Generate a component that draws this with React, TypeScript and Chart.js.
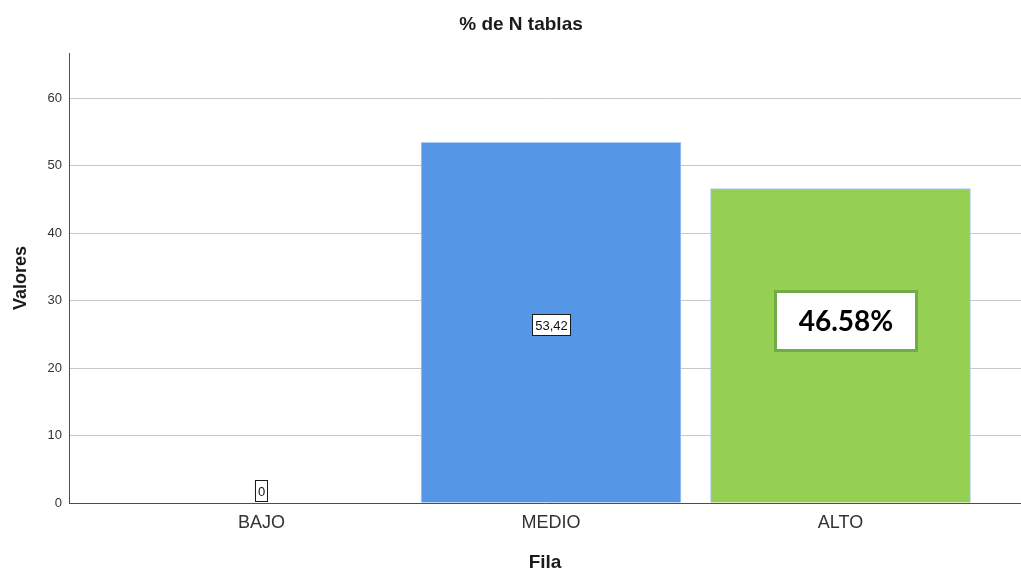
import { useEffect, useRef } from 'react';
import { Chart, registerables } from 'chart.js';

Chart.register(...registerables);

const CATEGORIES = ['BAJO', 'MEDIO', 'ALTO'];
const PERCENT_VALUES = [0, 53.42, 46.58];
const BAR_COLORS = ['#5596E6', '#5596E6', '#95D052'];
const Y_TICKS = [0, 10, 20, 30, 40, 50, 60];
const Y_MAX = 66.67;
const CALLOUT_INDEX = 2; // bar whose share is shown as a large percentage callout

const SANS = '"Liberation Sans", Arial, Helvetica, sans-serif';

function formatComma(v: number): string {
  return v === 0 ? '0' : v.toFixed(2).replace('.', ',');
}

const headingPlugin = {
  id: 'heading',
  afterDraw(chart: any) {
    const ctx = chart.ctx;
    ctx.save();
    ctx.font = `bold 19px ${SANS}`;
    ctx.fillStyle = '#1a1a1a';
    ctx.textAlign = 'center';
    ctx.textBaseline = 'alphabetic';
    ctx.fillText('% de N tablas', 521, 30);
    ctx.restore();
  },
};

const valueBoxPlugin = {
  id: 'valueBoxes',
  afterDatasetsDraw(chart: any) {
    const ctx = chart.ctx;
    const meta = chart.getDatasetMeta(0);
    const yScale = chart.scales.y;
    const base = yScale.getPixelForValue(0);
    ctx.save();
    meta.data.forEach((bar: any, i: number) => {
      const v = PERCENT_VALUES[i];

      if (i === CALLOUT_INDEX) {
        // large percentage callout in place of the small label
        const bw = 144;
        const bh = 62;
        const cx = bar.x + 5;
        const ccy = yScale.getPixelForValue(v / 2) - 25;
        const bl = Math.round(cx - bw / 2);
        const bt = Math.round(ccy - bh / 2);
        ctx.fillStyle = '#ffffff';
        ctx.fillRect(bl, bt, bw, bh);
        ctx.strokeStyle = '#70AD47';
        ctx.lineWidth = 3;
        ctx.strokeRect(bl + 1.5, bt + 1.5, bw - 3, bh - 3);
        ctx.fillStyle = '#000000';
        ctx.font = `bold 28px Lato, "Open Sans", sans-serif`;
        ctx.textAlign = 'center';
        ctx.textBaseline = 'middle';
        ctx.fillText(`${v.toFixed(2)}%`, bl + bw / 2, bt + bh / 2 + 1);
        return;
      }

      // small boxed value label in the middle of the bar
      const txt = formatComma(v);
      ctx.font = `13px ${SANS}`;
      const w = Math.round(ctx.measureText(txt).width) + 6;
      const h = 22;
      let cy = yScale.getPixelForValue(v / 2) + 2;
      cy = Math.min(cy, base - 1 - h / 2);
      const left = Math.round(bar.x - w / 2);
      const top = Math.round(cy - h / 2);
      ctx.fillStyle = '#ffffff';
      ctx.fillRect(left, top, w, h);
      ctx.strokeStyle = '#1a1a1a';
      ctx.lineWidth = 1;
      ctx.strokeRect(left + 0.5, top + 0.5, w - 1, h - 1);
      ctx.fillStyle = '#111111';
      ctx.textAlign = 'center';
      ctx.textBaseline = 'middle';
      ctx.fillText(txt, left + w / 2, top + h / 2 + 1);
    });
    ctx.restore();
  },
};

export default function App() {
  const canvasRef = useRef<HTMLCanvasElement>(null);

  useEffect(() => {
    const canvas = canvasRef.current;
    if (!canvas) return;
    Chart.defaults.font.family = SANS;

    const chart = new Chart(canvas, {
      type: 'bar',
      data: {
        datasets: [
          {
            data: PERCENT_VALUES.map((v, i) => ({ x: i, y: v })),
            backgroundColor: BAR_COLORS,
            borderColor: '#AFCDF2',
            borderWidth: 1,
            barThickness: 260,
          },
        ],
      },
      options: {
        responsive: false,
        animation: false,
        devicePixelRatio: 1,
        layout: { padding: { top: 53, left: 0, right: 0, bottom: 0 } },
        plugins: {
          legend: { display: false },
          tooltip: { enabled: false },
          title: { display: false },
        },
        scales: {
          x: {
            type: 'linear',
            offset: false,
            bounds: 'data',
            min: -0.665,
            max: 2.6235,
            grid: { display: false, offset: false },
            border: { display: true, color: '#4d4d4d', width: 1 },
            afterBuildTicks: (s: any) => {
              s.ticks = CATEGORIES.map((_, i) => ({ value: i }));
            },
            ticks: {
              callback: (v: any) => CATEGORIES[v] ?? '',
              font: { size: 18 },
              color: '#333333',
              padding: 1,
              maxRotation: 0,
              autoSkip: false,
            },
            title: {
              display: true,
              text: 'Fila',
              color: '#1a1a1a',
              font: { size: 19, weight: 'bold', lineHeight: '16px' },
              padding: { top: 0, bottom: 0 },
            },
            afterFit: (s: any) => {
              s.height = 68;
            },
          },
          y: {
            min: 0,
            max: Y_MAX,
            afterBuildTicks: (s: any) => {
              s.ticks = Y_TICKS.map((value) => ({ value }));
            },
            grid: {
              color: (c: any) => (c.tick && c.tick.value === 0 ? 'rgba(0,0,0,0)' : '#C8C8C8'),
              lineWidth: 1,
              drawTicks: false,
            },
            border: { display: true, color: '#4d4d4d', width: 1 },
            ticks: { font: { size: 13 }, color: '#333333', padding: 7 },
            title: {
              display: true,
              text: 'Valores',
              color: '#1a1a1a',
              font: { size: 18, weight: 'bold', lineHeight: '16px' },
              padding: { top: 13, bottom: 0 },
            },
            afterFit: (s: any) => {
              s.width = 69;
            },
          },
        },
      } as any,
      plugins: [headingPlugin, valueBoxPlugin],
    });

    return () => chart.destroy();
  }, []);

  return (
    <div style={{ position: 'absolute', left: 0, top: 0, width: 1021, height: 571, background: '#ffffff' }}>
      <canvas ref={canvasRef} width={1021} height={571} style={{ display: 'block' }} />
    </div>
  );
}
